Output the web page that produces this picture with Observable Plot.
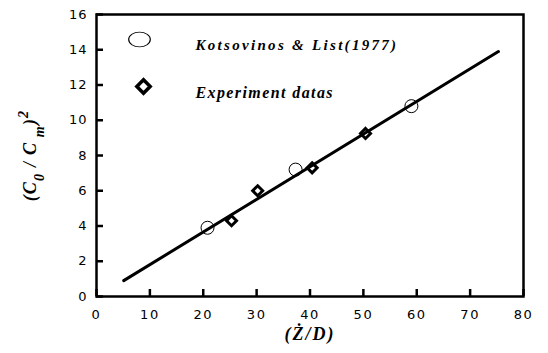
<!DOCTYPE html>
<html>
<head>
<meta charset="utf-8">
<script src="https://cdn.jsdelivr.net/npm/d3@7"></script>
<script src="https://cdn.jsdelivr.net/npm/@observablehq/plot@0.6"></script>
<style>
  body { margin: 0; background: #fff; }
  svg { font-family: "DejaVu Sans", sans-serif; }
  g[aria-label="x-axis tick label"] text { letter-spacing: 1.5px; }
  g[aria-label="y-axis tick label"] text { letter-spacing: 1px; }
</style>
</head>
<body>
<div id="chart"></div>
<script>
// Kotsovinos & List (1977)
const kotsX = [20.8, 37.3, 59.0];
const kotsY = [3.9, 7.2, 10.8];
// Experiment datas
const expX = [25.3, 30.2, 40.4, 50.4];
const expY = [4.3, 6.0, 7.3, 9.25];
// fitted line endpoints
const lineX = [5.1, 75.3];
const lineY = [0.9, 13.9];
const xTicks = [0, 10, 20, 30, 40, 50, 60, 70, 80];
const yTicks = [0, 2, 4, 6, 8, 10, 12, 14, 16];
const legendLabels = ["Kotsovinos & List(1977)", "Experiment datas"];
const xLabel = "(\u017B/D)";
const yLabelParts = [["(C", ""], ["0", "sub"], [" / C", ""], [" m", "sub"], [")", ""], ["2", "super"]];
const yLabel = yLabelParts.map(p => p[0]).join("");

const kots = kotsX.map((x, i) => ({x, y: kotsY[i]}));
const exp = expX.map((x, i) => ({x, y: expY[i]}));
const fit = lineX.map((x, i) => ({x, y: lineY[i]}));

const W = 548, H = 353, ML = 96, MR = 25, MT = 14, MB = 57, TICK = 7;
const serif = "'Liberation Serif', 'DejaVu Serif', serif";

const chart = Plot.plot({
  width: W,
  height: H,
  marginLeft: ML,
  marginRight: MR,
  marginTop: MT,
  marginBottom: MB,
  style: {fontFamily: "'DejaVu Sans', sans-serif", fontSize: "13px", color: "#000", background: "#fff"},
  x: {domain: [0, 80]},
  y: {domain: [0, 16]},
  marks: [
    Plot.frame({stroke: "#000", fill: "none", strokeWidth: 2.5}),
    // tick labels
    Plot.axisX({ticks: xTicks, tickSize: 0, tickPadding: 13, label: null, fontSize: 13}),
    Plot.axisY({ticks: yTicks, tickSize: 0, tickPadding: 9, label: null, fontSize: 13}),
    Plot.line(fit, {x: "x", y: "y", stroke: "#000", strokeWidth: 3}),
    Plot.dot(kots, {x: "x", y: "y", r: 6.5, stroke: "#000", strokeWidth: 1, fill: "none"}),
    Plot.dot(exp, {x: "x", y: "y", symbol: "diamond2", r: 4.5, stroke: "#000", strokeWidth: 3, fill: "none"}),
    // legend
    Plot.dot([legendLabels[0]], {frameAnchor: "top-left", dx: 43, dy: 25, r: 9, stroke: "#000", strokeWidth: 1, fill: "none"}),
    Plot.dot([legendLabels[1]], {frameAnchor: "top-left", dx: 47, dy: 72, symbol: "diamond2", r: 6, stroke: "#000", strokeWidth: 3.5, fill: "none"}),
    Plot.text([legendLabels[0]], {frameAnchor: "top-left", dx: 99, dy: 25, text: d => d, textAnchor: "start", fontFamily: serif, fontStyle: "italic", fontWeight: "bold", fontSize: 15}),
    Plot.text([legendLabels[1]], {frameAnchor: "top-left", dx: 99, dy: 72, text: d => d, textAnchor: "start", fontFamily: serif, fontStyle: "italic", fontWeight: "bold", fontSize: 16}),
    // axis titles
    Plot.text([xLabel], {frameAnchor: "bottom", dy: 43, text: d => d, fontFamily: serif, fontStyle: "italic", fontWeight: "bold", fontSize: 18}),
    Plot.text([yLabel], {frameAnchor: "left", dx: -66, dy: 0, rotate: -90, text: d => d, fontFamily: serif, fontStyle: "italic", fontWeight: "bold", fontSize: 18}),
    // inward ticks (full-height tick marks trimmed by pixel insets), drawn last
    Plot.tickX(xTicks, {x: d => d, insetTop: H - MT - MB - TICK, stroke: "#000", strokeWidth: 2.5}),
    Plot.tickY(yTicks, {y: d => d, insetRight: W - ML - MR - TICK, stroke: "#000", strokeWidth: 2.5})
  ]
});

const spacing = new Map([[legendLabels[0], "2.3px"], [legendLabels[1], "1.4px"], [xLabel, "2px"], [yLabel, "1.2px"]]);
d3.select(chart).selectAll("text").each(function() {
  const s = this.textContent;
  if (spacing.has(s)) d3.select(this).style("letter-spacing", spacing.get(s));
  if (s === yLabel) {
    // rich text for the y-axis title (subscripts / superscript)
    const t = d3.select(this);
    t.text(null).attr("text-anchor", "middle");
    yLabelParts.forEach(([str, shift]) => {
      const ts = t.append("tspan").text(str);
      if (shift) ts.attr("baseline-shift", shift).attr("font-size", "78%");
    });
  }
});
// legend circle drawn as a slightly wide ellipse, as in the original
d3.select(chart).selectAll("circle").each(function() {
  if (this.getAttribute("r") === "9") {
    const cx = +this.getAttribute("cx"), cy = +this.getAttribute("cy");
    d3.select(this).attr("transform", `translate(${cx},${cy}) scale(1.2,0.82) translate(${-cx},${-cy})`);
  }
});
document.getElementById("chart").appendChild(chart);
</script>
</body>
</html>
